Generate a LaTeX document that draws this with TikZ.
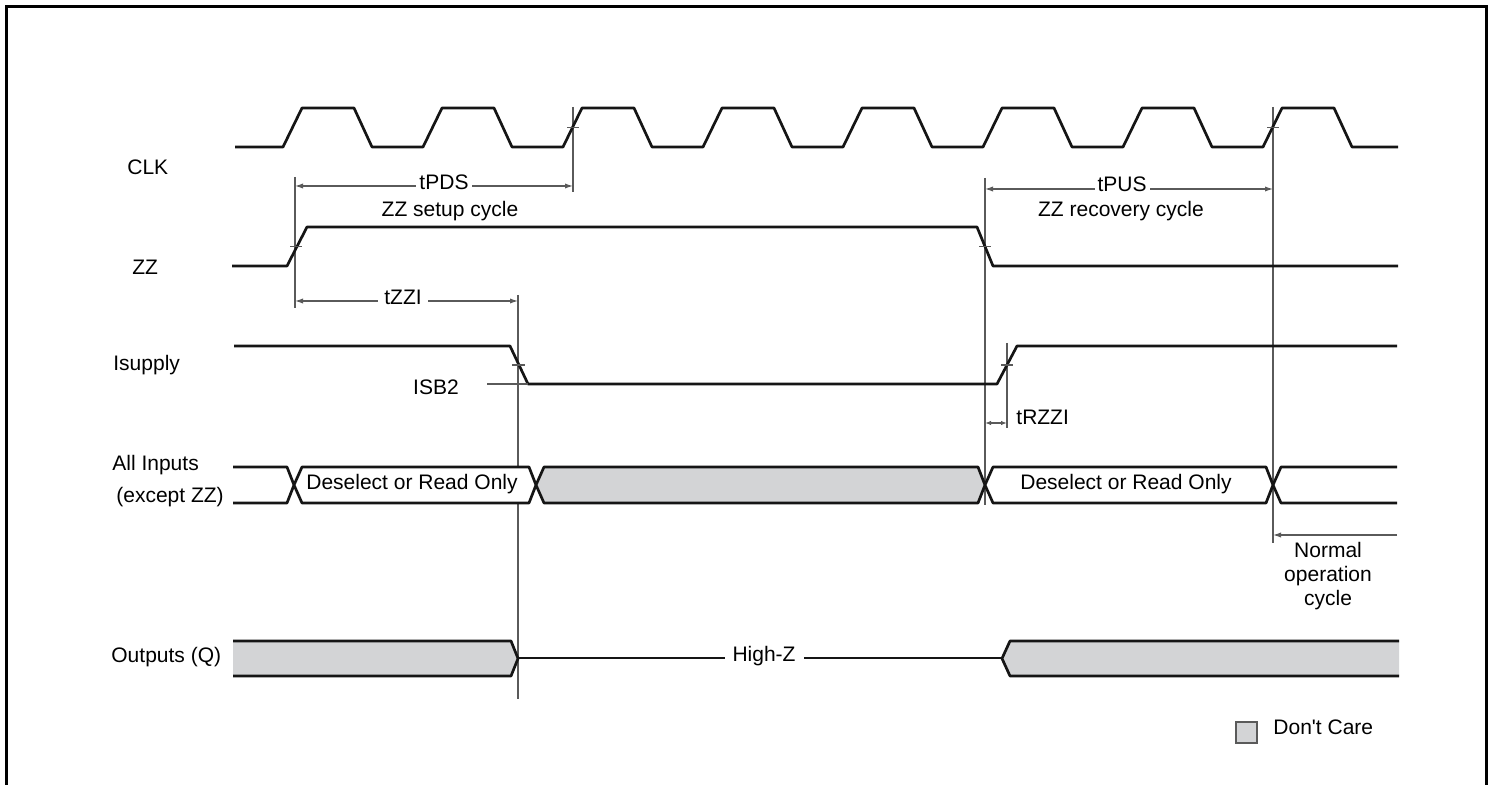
\documentclass[tikz,border=0pt]{standalone}
\usepackage{fontspec}
\setmainfont{Liberation Sans}
\newfontfamily\plainsans{Liberation Sans}
\usepackage{tikz}
\usetikzlibrary{arrows.meta}
\definecolor{sig}{HTML}{151515}
\definecolor{refl}{HTML}{5A5A5A}
\definecolor{dcare}{HTML}{D3D4D6}
\tikzset{
  frame/.style={draw=black, line width=1.5pt},
  sig/.style={draw=sig, line width=1.35pt, line join=round},
  refline/.style={draw=refl, line width=0.7pt},
  tickline/.style={draw=refl, line width=0.6pt},
  dim/.style={draw=refl, line width=0.55pt, {Latex[length=4pt,width=2.6pt]}-{Latex[length=4pt,width=2.6pt]}},
  lbl/.style={text=black, font=\fontsize{10.5}{12}\selectfont, inner sep=0pt},
  gaplbl/.style={lbl, fill=white, inner xsep=1.5pt, inner ysep=0pt}
}
\begin{document}
\begin{tikzpicture}[x=0.5pt, y=-0.5pt]
  \useasboundingbox (0,0) rectangle (1494,785);
  \draw[frame] (6,785) -- (6,7) -- (1486,7) -- (1486,785);

  % marker points
  \coordinate (PDS1) at (295,186);
  \coordinate (PDS2) at (573,186);
  \coordinate (PUS1) at (985,189);
  \coordinate (PUS2) at (1273,189);
  \coordinate (ZZI1) at (295,301);
  \coordinate (ZZI2) at (518,301);
  \coordinate (RZ1) at (985,423);
  \coordinate (RZ2) at (1007,423);
  \coordinate (NO1) at (1397,535);
  \coordinate (NO2) at (1273,535);

  % reference lines
  \draw[refline] (295,177) -- (295,308);
  \draw[refline] (573,107) -- (573,192);
  \draw[refline] (985,178) -- (985,505);
  \draw[refline] (1273,107) -- (1273,543);
  \draw[refline] (518,295) -- (518,699);
  \draw[refline] (1007,343) -- (1007,428);

  % CLK
  \draw[sig] (235,147) \foreach \k in {0,...,7}{
      -- ({283+140*\k},147) -- ({302+140*\k},108)
      -- ({354+140*\k},108) -- ({372+140*\k},147)} -- (1398,147);

  % ZZ
  \draw[sig] (232,266) -- (287,266) -- (307,227) -- (977,227) -- (993,266) -- (1398,266);

  % Isupply
  \draw[sig] (234,346) -- (510,346) -- (528,384) -- (997,384) -- (1017,346) -- (1397,346);
  \draw[refline] (487,384) -- (528,384);

  % All Inputs
  \draw[sig] (233,467) -- (287,467) -- (294,485) -- (287,503) -- (233,503);
  \draw[sig, fill=white] (294,485) -- (302,467) -- (529,467) -- (536,485) -- (529,503) -- (302,503) -- cycle;
  \draw[sig, fill=dcare] (536,485) -- (544,467) -- (978,467) -- (985,485) -- (978,503) -- (544,503) -- cycle;
  \draw[sig, fill=white] (985,485) -- (993,467) -- (1266,467) -- (1273,485) -- (1266,503) -- (993,503) -- cycle;
  \draw[sig] (1397,467) -- (1281,467) -- (1273,485) -- (1281,503) -- (1397,503);

  % Outputs (Q)
  \fill[dcare] (233,641) -- (511,641) -- (518,658.5) -- (511,676) -- (233,676) -- cycle;
  \draw[sig] (233,641) -- (511,641) -- (518,658.5) -- (511,676) -- (233,676);
  \fill[dcare] (1399,641) -- (1010,641) -- (1002,658.5) -- (1010,676) -- (1399,676) -- cycle;
  \draw[sig] (1399,641) -- (1010,641) -- (1002,658.5) -- (1010,676) -- (1399,676);
  \draw[sig, line width=1pt] (518,658.5) -- (1002,658.5);
  \node[lbl, fill=white, inner xsep=4pt] (hiz) at (764,656) {High-Z};

  % edge ticks
  \draw[tickline] (567,127.5) -- (579,127.5);
  \draw[tickline] (1267,127.5) -- (1279,127.5);
  \draw[tickline] (290,246.5) -- (302,246.5);
  \draw[tickline] (979,246.5) -- (991,246.5);
  \draw[tickline] (512,365) -- (525,365);
  \draw[tickline] (1001,365) -- (1013,365);

  % timing arrows
  \draw[dim] (PDS1) -- (PDS2);
  \draw[dim] (PUS1) -- (PUS2);
  \draw[dim] (ZZI1) -- (ZZI2);
  \draw[dim, {Latex[length=3pt,width=2.2pt]}-{Latex[length=3pt,width=2.2pt]}] (RZ1) -- (RZ2);
  \draw[refline, line width=0.55pt, -{Latex[length=4pt,width=2.6pt]}] (NO1) -- (NO2);

  \node[gaplbl] (tpds) at (444,182) {tPDS};
  \node[gaplbl] (tpus) at (1122,184) {tPUS};
  \node[gaplbl, inner xsep=3pt] (tzzi) at (403,297) {tZZI};
  \node[lbl] (setup) at (450,211) {ZZ setup cycle};
  \node[lbl] (recov) at (1121,211) {ZZ recovery cycle};
  \node[lbl, anchor=west] (trzzi) at (1016,417) {tRZZI};
  \node[lbl] (isb) at (436,387) {ISB2};

  % bus texts
  \node[lbl] (desel1) at (412,484) {Deselect or Read Only};
  \node[lbl] (desel2) at (1126,484) {Deselect or Read Only};
  \node[lbl, align=center] (normal) at (1328,576) {Normal\\operation\\cycle};

  % signal names
  \node[lbl, anchor=west] (clk) at (127,167) {CLK};
  \node[lbl, anchor=west] (zz) at (132,267) {ZZ};
  \node[lbl, anchor=west] (isup) at (113,365) {Isupply};
  \node[lbl, anchor=west] (allin) at (112,465) {All Inputs};
  \node[lbl, anchor=west] (exzz) at (116,497) {(except ZZ)};
  \node[lbl, anchor=west] (outq) at (111,657) {Outputs (Q)};

  % legend
  \draw[refl, line width=0.6pt, fill=dcare] (1236,722) rectangle (1257,743);
  \node[lbl, anchor=west] (dc) at (1273,727) {\plainsans Don't Care};
\end{tikzpicture}
\end{document}
